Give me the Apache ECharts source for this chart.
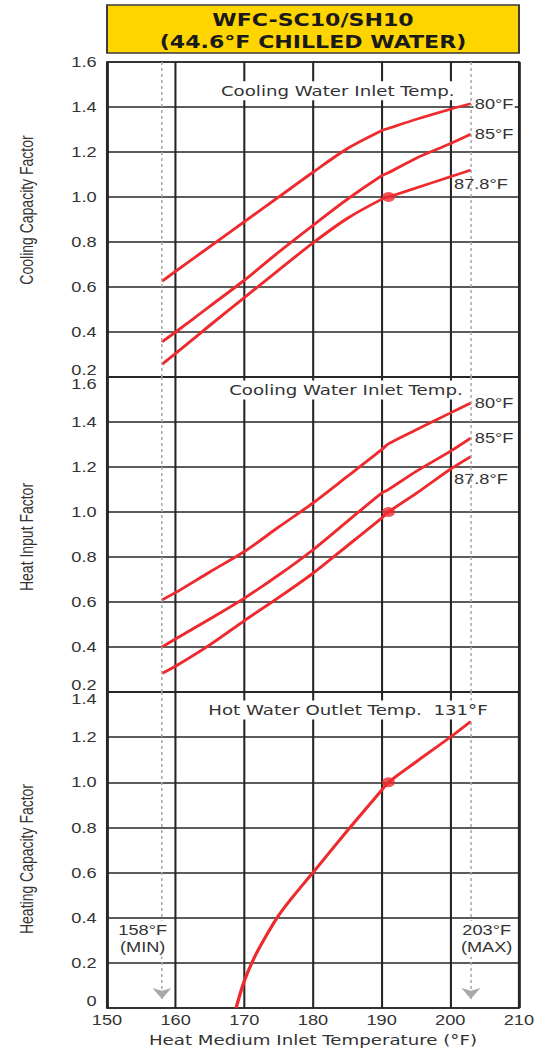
<!DOCTYPE html>
<html><head><meta charset="utf-8">
<script src="https://cdn.jsdelivr.net/npm/echarts@6/dist/echarts.min.js"></script>
<style>
html,body{margin:0;padding:0;background:#fff;overflow:hidden;}
#chart{width:414px;height:1050px;transform:scaleX(1.29952);transform-origin:0 0;}
</style></head><body><div id="chart"></div>
<script>
// ---- data ----
const titleLines = ['WFC-SC10/SH10', '(44.6°F CHILLED WATER)'];
const xLabelName = 'Heat Medium Inlet Temperature (°F)';
const yNames = ['Cooling Capacity Factor', 'Heat Input Factor', 'Heating Capacity Factor'];
const seriesNames = ['80°F', '85°F', '87.8°F'];
const hotName = '131°F';

const xCool = [158, 160, 165, 170, 175, 180, 185, 190, 191, 195, 200, 203];
const cool80  = [0.625, 0.67, 0.78, 0.89, 1.0, 1.11, 1.215, 1.295, 1.305, 1.345, 1.39, 1.415];
const cool85  = [0.356, 0.40, 0.515, 0.63, 0.755, 0.874, 0.99, 1.094, 1.108, 1.172, 1.237, 1.279];
const cool878 = [0.256, 0.305, 0.43, 0.553, 0.675, 0.796, 0.905, 0.99, 1.0, 1.04, 1.09, 1.12];

const heat80  = [0.609, 0.642, 0.734, 0.824, 0.933, 1.04, 1.158, 1.277, 1.303, 1.365, 1.44, 1.485];
const heat85  = [0.40, 0.436, 0.525, 0.617, 0.72, 0.832, 0.958, 1.084, 1.10, 1.18, 1.27, 1.329];
const heat878 = [0.283, 0.315, 0.41, 0.517, 0.62, 0.728, 0.85, 0.973, 1.0, 1.082, 1.19, 1.247];

const xHot = [168.8, 170, 171.4, 173, 175, 177, 180, 185, 190, 191, 195, 200, 203];
const hotVals = [0, 0.12, 0.22, 0.31, 0.41, 0.49, 0.60, 0.785, 0.965, 1.0, 1.09, 1.2, 1.27];

const ratedPoint = [191, 1.0];
const limitTemps = [158, 203];
const limitLabels = ['158°F\n(MIN)', '203°F\n(MAX)'];
const coolNote = 'Cooling Water Inlet Temp.';
const hotNote = 'Hot Water Outlet Temp.  131°F';

// ---- layout ----
const S = 538 / 414;
const L = 107 / S, RX = 519 / S, R = 414 - RX;
const RED = '#ee2a2e', GRID = '#262626', TXT = '#333';
const panels = [
  {top: 62, height: 315, min: 0.2, max: 1.6, minA: 'bottom', maxA: 'middle', namePad: [0, 0, 0, 19]},
  {top: 377, height: 315, min: 0.2, max: 1.6, minA: 'bottom', maxA: 'top', namePad: [0, 5, 0, 0]},
  {top: 692, height: 316, min: 0, max: 1.4, minA: 'bottom', maxA: 'top', namePad: [0, 18, 0, 0]}
];

const pairs = (xs, ys) => xs.map((x, i) => [x, ys[i]]);

const grid = panels.map(p => ({left: L, right: R, top: p.top, height: p.height,
  show: true, borderColor: GRID, borderWidth: 1.6, backgroundColor: 'transparent'}));

const xAxis = panels.map((p, i) => ({
  type: 'value', gridIndex: i, min: 150, max: 210, interval: 10,
  axisLine: {show: false}, axisTick: {show: false},
  splitLine: {show: true, lineStyle: {color: GRID, width: 1.6}},
  axisLabel: {show: i === 2, color: TXT, fontFamily: 'Liberation Sans', fontSize: 14, margin: 5},
  name: i === 2 ? xLabelName : '', nameLocation: 'middle', nameGap: 25,
  nameTextStyle: {color: TXT, fontFamily: 'DejaVu Sans', fontSize: 14}
}));

const yAxis = panels.map((p, i) => ({
  type: 'value', gridIndex: i, min: p.min, max: p.max, interval: 0.2,
  axisLine: {show: false}, axisTick: {show: false},
  splitLine: {show: true, lineStyle: {color: GRID, width: 1.6}},
  axisLabel: {color: TXT, fontFamily: 'Liberation Sans', fontSize: 14, margin: 8,
    showMinLabel: true, showMaxLabel: true,
    verticalAlignMinLabel: p.minA, verticalAlignMaxLabel: p.maxA,
    formatter: v => (Math.abs(v) < 1e-9 ? '0' : v.toFixed(1))},
  name: yNames[i], nameLocation: 'middle', nameRotate: 90, nameGap: 55,
  nameTextStyle: {color: TXT, fontFamily: 'Liberation Sans', fontSize: 14, padding: p.namePad}
}));

function lineSeries(name, xs, ys, gi, offset, showLabel) {
  return {
    type: 'line', name: name, xAxisIndex: gi, yAxisIndex: gi,
    data: pairs(xs, ys), showSymbol: false, smooth: 0.3, z: 3,
    lineStyle: {color: RED, width: 2.6}, itemStyle: {color: RED},
    endLabel: {show: showLabel, formatter: name, color: TXT, fontFamily: 'Liberation Sans',
      fontSize: 14, distance: 2, offset: offset, backgroundColor: '#fff', padding: [0, 1]}
  };
}

const dash = {color: '#a9a9a9', type: [3, 3], width: 1.2};
function markSeries(gi) {
  const ml = gi < 2
    ? {silent: true, symbol: ['none', 'none'], label: {show: false}, lineStyle: dash,
       data: limitTemps.map(t => ({xAxis: t}))}
    : {silent: true, symbol: ['none', 'arrow'], symbolSize: 11, label: {show: false},
       lineStyle: dash, itemStyle: {color: '#a9a9a9'},
       data: limitTemps.map(t => [{coord: [t, panels[2].max]}, {coord: [t, 0.04]}])};
  return {type: 'scatter', xAxisIndex: gi, yAxisIndex: gi, data: [ratedPoint],
    symbol: 'circle', symbolSize: 10, itemStyle: {color: RED}, z: 4, markLine: ml};
}

const series = [
  markSeries(0), markSeries(1), markSeries(2),
  lineSeries(seriesNames[0], xCool, cool80, 0, [0, 0], true),
  lineSeries(seriesNames[1], xCool, cool85, 0, [0, 0], true),
  lineSeries(seriesNames[2], xCool, cool878, 0, [-16, 14], true),
  lineSeries(seriesNames[0], xCool, heat80, 1, [0, 0], true),
  lineSeries(seriesNames[1], xCool, heat85, 1, [0, 0], true),
  lineSeries(seriesNames[2], xCool, heat878, 1, [-16, 22], true),
  lineSeries(hotName, xHot, hotVals, 2, [0, 0], false)
];

const chart = echarts.init(document.getElementById('chart'), null, {renderer: 'svg'});
chart.setOption({animation: false, backgroundColor: '#fff', grid, xAxis, yAxis, series});

// annotations placed through the axes' own scales
const px = (gi, x, y) => chart.convertToPixel({gridIndex: gi}, [x, y]);
const note = (gi, x, y, text, fam) => {
  const p = px(gi, x, y);
  return {type: 'text', x: p[0], y: p[1], z: 100,
    style: {text: text, fontFamily: fam, fontSize: 14, fill: TXT, align: 'center',
      verticalAlign: 'middle', lineHeight: 17, backgroundColor: '#fff', padding: [1, 2]}};
};
const graphic = [
  {type: 'rect', z: 100, shape: {x: L, y: 5, width: RX - L, height: 48},
   style: {fill: '#FFD500', stroke: '#3a3a3a', lineWidth: 1.5}},
  {type: 'text', z: 101, x: (L + RX) / 2, y: 31,
   style: {text: titleLines.join('\n'), fontFamily: 'DejaVu Sans', fontWeight: 'bold', fontSize: 17,
     lineHeight: 22, fill: '#1a1a1a', align: 'center', verticalAlign: 'middle'}},
  note(0, 183.6, 1.472, coolNote, 'DejaVu Sans'),
  note(1, 184.8, 1.542, coolNote, 'DejaVu Sans'),
  note(2, 185.1, 1.32, hotNote, 'DejaVu Sans'),
  note(2, 155.2, 0.307, limitLabels[0], 'Liberation Sans'),
  note(2, 205.3, 0.307, limitLabels[1], 'Liberation Sans')
];
chart.setOption({graphic});
</script></body></html>
